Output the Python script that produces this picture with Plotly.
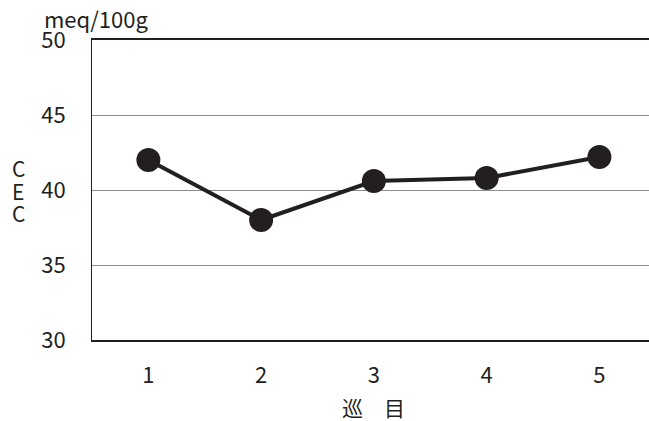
import plotly.graph_objects as go

rounds = [1, 2, 3, 4, 5]
cec = [42.0, 38.0, 40.6, 40.8, 42.2]
y_ticks = [30, 35, 40, 45, 50]

ink = "#231f20"
font_family = "Noto Sans CJK JP"

# Plot-area geometry in pixels
W, H = 649, 421
L, R, T, B = 92, 0, 40, 81
plot_w = W - L - R
plot_h = H - T - B


def px_to_paper(px, py):
    return (px - L) / plot_w, 1 - (py - T) / plot_h


fig = go.Figure()
fig.add_trace(go.Scatter(
    x=rounds, y=cec, mode="lines+markers",
    line=dict(color=ink, width=4),
    marker=dict(color=ink, size=24),
    showlegend=False, cliponaxis=False,
))

# Free-floating labels: (text, pixel x, pixel y, anchor, size)
labels = [
    ("meq/100g", 42, 18, "left", 22),
    ("C", 18, 168, "center", 21),
    ("E", 18, 191, "center", 21),
    ("C", 18, 213, "center", 21),
    ("巡　目", 373, 407, "center", 21),
]
annotations = []
for text, px, py, anchor, size in labels:
    xp, yp = px_to_paper(px, py)
    annotations.append(dict(
        text=text, x=xp, y=yp, xref="paper", yref="paper",
        showarrow=False, xanchor=anchor, yanchor="middle",
        font=dict(size=size),
    ))

fig.update_layout(
    width=W, height=H,
    margin=dict(l=L, r=R, t=T, b=B),
    paper_bgcolor="white", plot_bgcolor="white",
    font=dict(family=font_family, size=22, color=ink),
    xaxis=dict(
        range=[0.5, 5.44], tickvals=rounds, ticks="",
        showgrid=False, zeroline=False,
        showline=True, linecolor=ink, linewidth=1.5, mirror=True,
        ticklabelstandoff=15,
        tickfont=dict(size=22),
    ),
    yaxis=dict(
        range=[30, 50], tickvals=y_ticks, ticks="",
        showgrid=True, gridcolor="#8c8c8c", gridwidth=1,
        zeroline=False,
        showline=True, linecolor=ink, linewidth=1,
        ticklabelstandoff=21,
        tickfont=dict(size=22),
    ),
    annotations=annotations,
)

fig.write_html("out.html")
